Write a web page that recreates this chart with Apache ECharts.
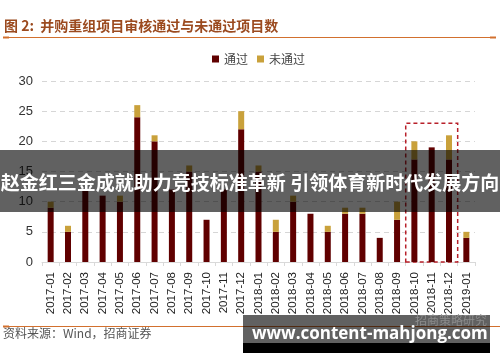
<!DOCTYPE html>
<html>
<head>
<meta charset="utf-8">
<script src="https://cdn.jsdelivr.net/npm/echarts@6/dist/echarts.min.js"></script>
<style>html,body{margin:0;padding:0;background:#fff;}#c{width:500px;height:362px;}</style>
</head>
<body>
<div id="c"></div>
<script>
const categories = ['2017-01','2017-02','2017-03','2017-04','2017-05','2017-06','2017-07','2017-08','2017-09','2017-10','2017-11','2017-12','2018-01','2018-02','2018-03','2018-04','2018-05','2018-06','2018-07','2018-08','2018-09','2018-10','2018-11','2018-12','2019-01'];
const passed = [9,5,12,11,10,24,20,12,15,7,12,22,15,5,10,8,5,8,8,4,7,17,19,17,4];
const failed = [1,1,0,0,1,2,1,0,1,0,0,3,1,2,1,0,1,1,1,0,3,3,0,4,1];
const yTicks = [0,5,10,15,20,25,30];
const highlightFrom = '2018-10';
const highlightTo = '2018-12';
const highlightTop = 23;

const chart = echarts.init(document.getElementById('c'), null, {renderer:'canvas'});
const orange = '#d2702e';
chart.setOption({
  animation: false,
  backgroundColor: '#fff',
  grid: {left: 42, right: 25, top: 81, bottom: 100, containLabel: false},
  legend: {
    data: ['通过','未通过'], left: 207, top: 48, icon: 'rect', itemWidth: 7, itemHeight: 7, itemGap: 9,
    textStyle: {fontSize: 12, color: '#444', fontFamily: 'Noto Sans CJK SC'}
  },
  xAxis: {
    type: 'category', data: categories,
    axisLine: {lineStyle: {color: '#d9d9d9'}},
    axisTick: {show: true, length: 4, lineStyle: {color: '#d9d9d9'}},
    axisLabel: {rotate: 90, fontSize: 11.5, color: '#222', margin: 10, fontFamily: 'Liberation Sans', interval: 0}
  },
  yAxis: {
    type: 'value', min: yTicks[0], max: yTicks[yTicks.length-1], interval: 5,
    axisLine: {show: false}, axisTick: {show: false},
    axisLabel: {fontSize: 13, color: '#333', margin: 9, fontFamily: 'Liberation Sans'},
    splitLine: {lineStyle: {color: '#d6d6d6', type: [5,4]}}
  },
  series: [
    {name: '通过', type: 'bar', stack: 't', data: passed, barWidth: 6, itemStyle: {color: '#600000'}, silent: true,
     markArea: {silent: true, itemStyle: {color: 'rgba(0,0,0,0)', borderColor: '#b8202a', borderWidth: 1.5, borderType: [4,3]},
       data: [[{xAxis: highlightFrom, yAxis: 0}, {xAxis: highlightTo, yAxis: highlightTop}]]}},
    {name: '未通过', type: 'bar', stack: 't', data: failed, barWidth: 6, itemStyle: {color: '#c9a13b'}, silent: true}
  ],
  graphic: [
    {type: 'text', left: 4, top: 19, style: {text: '图 2:  并购重组项目审核通过与未通过项目数', fill: '#9b4a1f', font: 'bold 14px "Noto Sans CJK SC"'}},
    {type: 'line', shape: {x1: 3, y1: 37.5, x2: 496, y2: 37.5}, style: {stroke: orange, lineWidth: 1}},
    {type: 'rect', shape: {x: 3, y: 36.5, width: 6, height: 2}, style: {fill: orange}},
    {type: 'rect', shape: {x: 490, y: 36.5, width: 6, height: 2}, style: {fill: orange}},
    {type: 'line', shape: {x1: 3, y1: 326.5, x2: 500, y2: 326.5}, style: {stroke: orange, lineWidth: 1}},
    {type: 'rect', shape: {x: 3, y: 325.5, width: 6, height: 2}, style: {fill: orange}},
    {type: 'text', left: 3, top: 327, style: {text: '资料来源：Wind，招商证券', fill: '#555', font: '12px "Noto Sans CJK SC"'}},
    {type: 'rect', z: 100, shape: {x: 0, y: 150, width: 500, height: 62}, style: {fill: 'rgba(0,0,0,0.62)'}},
    {type: 'text', z: 101, x: 250, y: 183, style: {text: '赵金红三金成就助力竞技标准革新 引领体育新时代发展方向', fill: '#fff', font: 'bold 19px "Noto Sans CJK SC"', align: 'center', verticalAlign: 'middle'}},
    {type: 'rect', z: 100, shape: {x: 243, y: 315, width: 247, height: 28}, style: {fill: 'rgba(0,0,0,0.62)'}},
    {type: 'rect', z: 100, shape: {x: 243, y: 343, width: 247, height: 10}, style: {fill: '#000'}},
    {type: 'text', z: 101, x: 415, y: 320, style: {text: '招商策略研究', fill: '#8c8c8c', font: '12px "Noto Sans CJK SC"', align: 'left', verticalAlign: 'middle'}},
    {type: 'text', z: 102, x: 252, y: 334, style: {text: 'www.content-mahjong.com', fill: '#fff', font: 'bold 17px "Open Sans"', align: 'left', verticalAlign: 'middle'}}
  ]
});
</script>
</body>
</html>
